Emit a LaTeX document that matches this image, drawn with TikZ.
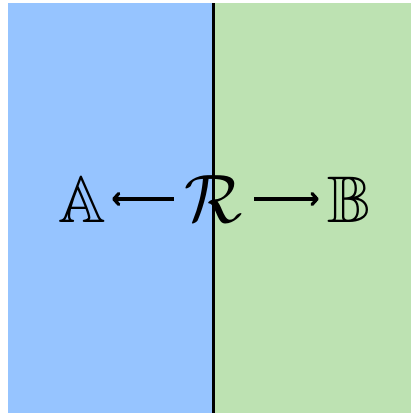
\documentclass[tikz,border=0pt]{standalone}
\usepackage{amssymb}
\usetikzlibrary{arrows.meta}
\definecolor{lblue}{RGB}{150,196,255}
\definecolor{lgreen}{RGB}{189,226,178}
\tikzset{lbl/.style={inner sep=0pt,scale=6.6},
  arr/.style={line width=3.3pt,-{Straight Barb[length=5pt,width=11pt,round]}}}
\begin{document}
\begin{tikzpicture}[x=1pt,y=-1pt]
\useasboundingbox (0,0) rectangle (411,413);
\fill[lblue] (8,3) rectangle (213,413);
\fill[lgreen] (213,3) rectangle (411,413);
\draw[line width=3pt] (213,3) -- (213,413);
\node[lbl] (a) at (82,200) {$\mathbb{A}$};
\node[lbl,scale=1.04] (r) at (214,199) {$\mathcal{R}$};
\node[lbl] (b) at (349,200) {$\mathbb{B}$};
\coordinate (y) at (0,199);
\draw[arr] ([xshift=-10pt]r.west |- y) -- ([xshift=5pt]a.east |- y);
\draw[arr] ([xshift=10pt]r.east |- y) -- ([xshift=-7pt]b.west |- y);
\end{tikzpicture}
\end{document}
